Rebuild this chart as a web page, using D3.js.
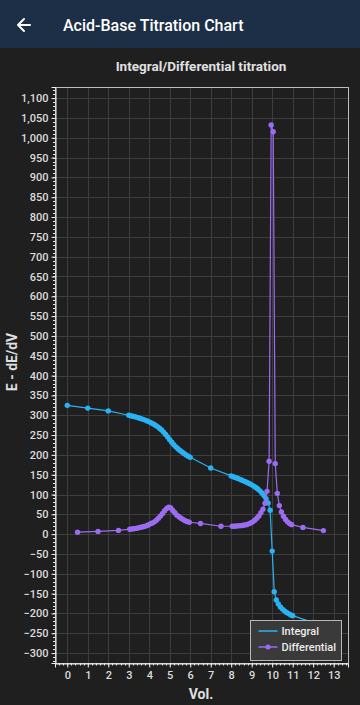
<!DOCTYPE html>
<html>
<head>
<meta charset="utf-8">
<script src="https://cdn.jsdelivr.net/npm/d3@7"></script>
<style>
  body { margin: 0; background: #1f1f1f; font-family: Roboto, "Noto Sans", sans-serif; }
  svg { display: block; }
</style>
</head>
<body>
<div id="chart"></div>
<script>
// Integral titration curve (volume in mL, potential E)
var intVol = [0, 1, 2,
  3, 3.1, 3.2, 3.3, 3.4, 3.5, 3.6, 3.7, 3.8, 3.9, 4, 4.1, 4.2, 4.3, 4.4, 4.5, 4.6, 4.7, 4.8, 4.9,
  5, 5.1, 5.2, 5.3, 5.4, 5.5, 5.6, 5.7, 5.8, 5.9, 6,
  7,
  8, 8.1, 8.2, 8.3, 8.4, 8.5, 8.6, 8.7, 8.8, 8.9, 9, 9.1, 9.2, 9.3, 9.4, 9.5, 9.6, 9.7, 9.8, 9.9,
  10, 10.1, 10.2, 10.3, 10.4, 10.5, 10.6, 10.7, 10.8, 10.9, 11,
  12, 13];
var intE = [325, 318, 311,
  300, 298.8, 297.5, 296.1, 294.7, 293.1, 291.4, 289.6, 287.7, 285.6, 283.3, 280.7, 277.9, 274.8, 271.3, 267.3, 262.7, 257.5, 251.6, 245.1,
  238.3, 231.7, 225.7, 220.3, 215.5, 211.1, 207.1, 203.4, 200.0, 196.8, 193.8,
  167,
  147, 145, 143, 141, 138.9, 136.7, 134.5, 132.2, 129.8, 127.2, 124.4, 121.3, 117.8, 113.8, 109.2, 103.8, 97.5, 89.7, 78.9, 60.5,
  -42.7, -145, -166, -176, -183.5, -189, -193.5, -197.3, -200.4, -203.1, -205.5,
  -223, -232];

// Differential curve (dE/dV at mid volumes)
var difVol = [0.5, 1.5, 2.5,
  3.05, 3.15, 3.25, 3.35, 3.45, 3.55, 3.65, 3.75, 3.85, 3.95, 4.05, 4.15, 4.25, 4.35, 4.45,
  4.55, 4.65, 4.75, 4.85, 4.95, 5.05, 5.15, 5.25, 5.35, 5.45, 5.55, 5.65, 5.75, 5.85, 5.95,
  6.5, 7.5,
  8.05, 8.15, 8.25, 8.35, 8.45, 8.55, 8.65, 8.75, 8.85, 8.95, 9.05, 9.15, 9.25, 9.35, 9.45,
  9.55, 9.65, 9.75, 9.85, 9.95, 10.05, 10.15, 10.25, 10.35, 10.45, 10.55, 10.65, 10.75, 10.85, 10.95,
  11.5, 12.5];
var difE = [5, 7, 9.5,
  12.5, 13, 13.5, 14.5, 15.5, 17, 18, 19.5, 21, 23, 26, 28, 31, 35, 40,
  46, 52, 59, 65, 68, 66, 60, 54, 48, 44, 40, 37, 34, 32, 30,
  27, 20,
  20, 20, 20.5, 21, 21.5, 22, 23, 24, 26, 28, 31, 35, 40, 46, 54,
  63, 78, 108, 184, 1032, 1015, 178, 103, 72, 56, 45, 37, 31, 27, 24,
  17, 9];

var xTicks = [0, 1, 2, 3, 4, 5, 6, 7, 8, 9, 10, 11, 12, 13];
var yTicks = [-300, -250, -200, -150, -100, -50, 0, 50, 100, 150, 200, 250, 300, 350, 400, 450, 500,
  550, 600, 650, 700, 750, 800, 850, 900, 950, 1000, 1050, 1100];

var seriesNames = ["Integral", "Differential"];
var seriesColors = ["#29b2f4", "#9b6cf2"];

var width = 360, height = 705;
var plot = { left: 55, right: 348, top: 87, bottom: 663 };

var svg = d3.select("#chart").append("svg")
  .attr("width", width)
  .attr("height", height);

svg.append("rect").attr("width", width).attr("height", height).attr("fill", "#1f1f1f");

// App bar
svg.append("rect").attr("width", width).attr("height", 48).attr("fill", "#1d2f46");
svg.append("path")
  .attr("d", "M30,25 H18 M24,19 L18,25 L24,31")
  .attr("fill", "none").attr("stroke", "#fff").attr("stroke-width", 2)
  .attr("stroke-linecap", "round").attr("stroke-linejoin", "round");
svg.append("text")
  .attr("x", 63).attr("y", 31)
  .attr("fill", "#fff").attr("font-size", 16).attr("font-weight", 500)
  .text("Acid-Base Titration Chart");

// Chart title
svg.append("text")
  .attr("x", 201).attr("y", 71)
  .attr("text-anchor", "middle")
  .attr("fill", "#e0e0e0").attr("font-size", 13.5).attr("font-weight", 700)
  .text("Integral/Differential titration");

var x = d3.scaleLinear().domain([-0.6, 13.7]).range([plot.left, plot.right]);
var y = d3.scaleLinear().domain([-325, 1128]).range([plot.bottom, plot.top]);

// Grid
var grid = svg.append("g").attr("stroke", "#3d3d3d").attr("stroke-width", 1);
grid.selectAll(".vg").data(xTicks).enter().append("line")
  .attr("x1", function(d) { return Math.round(x(d)) + 0.5; })
  .attr("x2", function(d) { return Math.round(x(d)) + 0.5; })
  .attr("y1", plot.top).attr("y2", plot.bottom);
grid.selectAll(".hg").data(yTicks).enter().append("line")
  .attr("y1", function(d) { return Math.round(y(d)) + 0.5; })
  .attr("y2", function(d) { return Math.round(y(d)) + 0.5; })
  .attr("x1", plot.left).attr("x2", plot.right);

// Plot border
svg.append("rect")
  .attr("x", plot.left + 0.5).attr("y", plot.top + 0.5)
  .attr("width", plot.right - plot.left).attr("height", plot.bottom - plot.top)
  .attr("fill", "none").attr("stroke", "#bdbdbd");

// Axes with minor ticks (0.2 on x, 10 on y)
var xMinor = d3.range(-3, 69).map(function(i) { return i / 5; })
  .filter(function(v) { return x(v) >= plot.left && x(v) <= plot.right; });
var yMinor = d3.range(-320, 1130, 10)
  .filter(function(v) { return y(v) >= plot.top && y(v) <= plot.bottom; });

var xAxis = d3.axisBottom(x).tickValues(xTicks).tickSize(4).tickPadding(4).tickFormat(d3.format("d"));
var gx = svg.append("g").attr("transform", "translate(0," + (plot.bottom + 0.5) + ")").call(xAxis);
svg.append("g").selectAll("line").data(xMinor)
  .enter().append("line")
  .attr("x1", function(d) { return Math.round(x(d)) + 0.5; })
  .attr("x2", function(d) { return Math.round(x(d)) + 0.5; })
  .attr("y1", plot.bottom).attr("y2", plot.bottom + 2.5)
  .attr("stroke", "#e8e8e8");

var yAxis = d3.axisLeft(y).tickValues(yTicks).tickSize(4).tickPadding(3).tickFormat(d3.format(","));
var gy = svg.append("g").attr("transform", "translate(" + (plot.left + 0.5) + ",0)").call(yAxis);
svg.append("g").selectAll("line").data(yMinor)
  .enter().append("line")
  .attr("y1", function(d) { return Math.round(y(d)) + 0.5; })
  .attr("y2", function(d) { return Math.round(y(d)) + 0.5; })
  .attr("x1", plot.left - 2).attr("x2", plot.left)
  .attr("stroke", "#e8e8e8");

[gx, gy].forEach(function(g) {
  g.select(".domain").attr("stroke", "#f0f0f0");
  g.selectAll(".tick line").attr("stroke", "#f0f0f0");
  g.selectAll(".tick text")
    .attr("fill", "#dcdcdc").attr("font-size", 11).attr("font-weight", 500)
    .attr("font-family", "Roboto, sans-serif");
});

// Axis titles
svg.append("text")
  .attr("x", 201).attr("y", 699)
  .attr("text-anchor", "middle")
  .attr("fill", "#e0e0e0").attr("font-size", 14).attr("font-weight", 700)
  .text("Vol.");
svg.append("text")
  .attr("transform", "translate(17,362) rotate(-90)")
  .attr("text-anchor", "middle")
  .attr("fill", "#e0e0e0").attr("font-size", 14).attr("font-weight", 700)
  .text("E - dE/dV");

// Series
var series = [
  intVol.map(function(v, i) { return { v: v, e: intE[i] }; }),
  difVol.map(function(v, i) { return { v: v, e: difE[i] }; })
];
var line = d3.line().x(function(d) { return x(d.v); }).y(function(d) { return y(d.e); });

series.forEach(function(data, s) {
  var g = svg.append("g");
  g.append("path")
    .datum(data)
    .attr("d", line)
    .attr("fill", "none")
    .attr("stroke", seriesColors[s])
    .attr("stroke-width", 1.2);
  g.selectAll("circle").data(data).enter().append("circle")
    .attr("cx", function(d) { return x(d.v); })
    .attr("cy", function(d) { return y(d.e); })
    .attr("r", 2.7)
    .attr("fill", seriesColors[s]);
});

// Legend
var legend = svg.append("g").attr("transform", "translate(250.5,620.5)");
legend.append("rect")
  .attr("width", 91).attr("height", 40)
  .attr("fill", "#3a3a3a").attr("stroke", "#b8b8b8");
seriesNames.forEach(function(name, i) {
  var row = legend.append("g").attr("transform", "translate(0," + (10.5 + i * 16) + ")");
  row.append("line").attr("x1", 8).attr("x2", 27)
    .attr("stroke", seriesColors[i]).attr("stroke-width", 1.5);
  if (i === 1) {
    row.append("circle").attr("cx", 17.5).attr("r", 2.5).attr("fill", seriesColors[i]);
  }
  row.append("text")
    .attr("x", 31).attr("dy", "0.35em")
    .attr("fill", "#ececec").attr("font-size", 11).attr("font-weight", 500)
    .text(name);
});
</script>
</body>
</html>
